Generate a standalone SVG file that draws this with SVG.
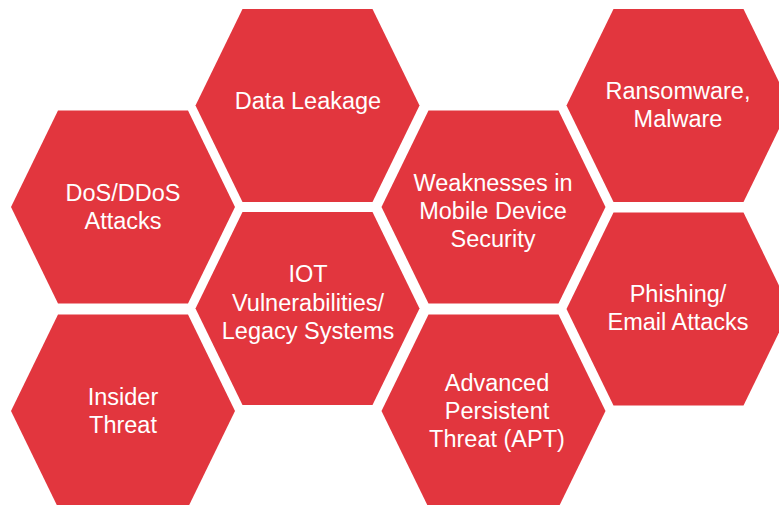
<svg xmlns="http://www.w3.org/2000/svg" width="779" height="505" viewBox="0 0 779 505">
<defs>
<style>
.hex{fill:#E2363E;}
.t{fill:#FFFFFF;font-family:"Liberation Sans",Arial,sans-serif;font-size:23.5px;text-anchor:middle;}
</style>
<polygon id="hexShape" points="-112,0 -65,-96.5 65,-96.5 112,0 65,96.5 -65,96.5"/>
</defs>
<rect width="779" height="505" fill="#FFFFFF"/>
<g id="connectors"/>
<g id="dos">
<use href="#hexShape" class="hex" transform="translate(123,207)"/>
<text class="t" x="123" y="201">DoS/DDoS</text>
<text class="t" x="123" y="229">Attacks</text>
</g>
<g id="insider">
<use href="#hexShape" class="hex" transform="translate(123,411)"/>
<text class="t" x="123" y="405">Insider</text>
<text class="t" x="123" y="433">Threat</text>
</g>
<g id="dataleakage">
<use href="#hexShape" class="hex" transform="translate(307.5,105.5)"/>
<text class="t" x="308" y="109">Data Leakage</text>
</g>
<g id="iot">
<use href="#hexShape" class="hex" transform="translate(307.5,308.5)"/>
<text class="t" x="308" y="282">IOT</text>
<text class="t" x="308" y="311">Vulnerabilities/</text>
<text class="t" x="308" y="339">Legacy Systems</text>
</g>
<g id="mobile">
<use href="#hexShape" class="hex" transform="translate(493.5,207)"/>
<text class="t" x="493" y="191">Weaknesses in</text>
<text class="t" x="493" y="219">Mobile Device</text>
<text class="t" x="493" y="247">Security</text>
</g>
<g id="apt">
<use href="#hexShape" class="hex" transform="translate(493.5,411)"/>
<text class="t" x="497" y="391">Advanced</text>
<text class="t" x="497" y="419">Persistent</text>
<text class="t" x="497" y="447">Threat (APT)</text>
</g>
<g id="ransomware">
<use href="#hexShape" class="hex" transform="translate(678.5,105.5)"/>
<text class="t" x="678" y="99">Ransomware,</text>
<text class="t" x="678" y="127">Malware</text>
</g>
<g id="phishing">
<use href="#hexShape" class="hex" transform="translate(678.5,309)"/>
<text class="t" x="678" y="302">Phishing/</text>
<text class="t" x="678" y="330">Email Attacks</text>
</g>
</svg>
